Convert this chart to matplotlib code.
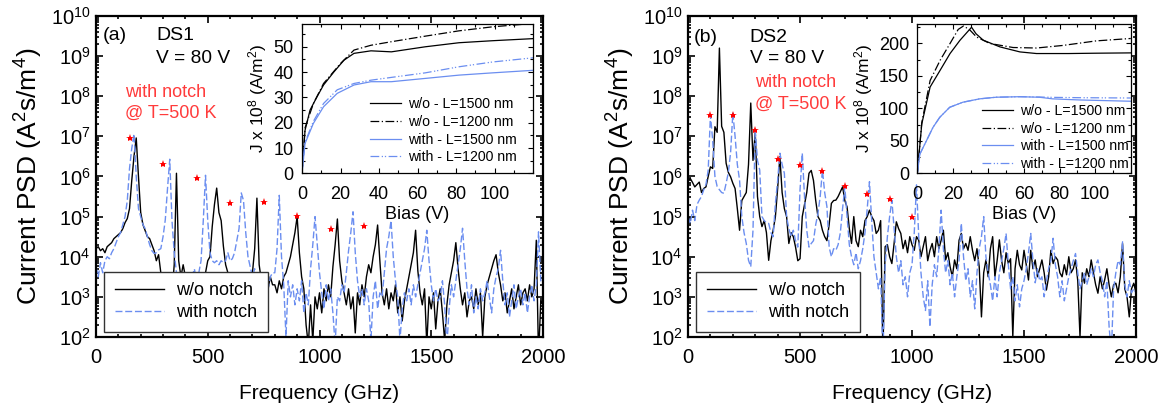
import numpy as np
import matplotlib
matplotlib.use('Agg')
import matplotlib.pyplot as plt
from matplotlib.ticker import LogLocator, MultipleLocator, NullFormatter

plt.rcParams['font.family'] = ['Liberation Sans', 'DejaVu Sans']
plt.rcParams['mathtext.fontset'] = 'custom'
plt.rcParams['mathtext.rm'] = 'Liberation Sans'
plt.rcParams['mathtext.it'] = 'Liberation Sans:italic'
plt.rcParams['mathtext.default'] = 'regular'

BLUE = '#6b8ef0'
RED = '#ff3b3b'

# frequency grid (GHz) shared by the four spectra
freq = np.arange(0, 2001, 10)

# log10 of current PSD (A^2 s/m^4), one row = 100 GHz
a_wo_log = [
    4.2, 4.25, 4.15, 4.2, 4.1, 4.25, 4.3, 4.35, 4.45, 4.5,
    4.55, 4.6, 4.7, 4.85, 4.95, 5.2, 5.9, 6.5, 6.96, 6.0,
    5.1, 4.8, 4.65, 4.5, 4.45, 4.3, 4.15, 3.9, 4.05, 3.6,
    3.4, 3.2, 3.5, 3.3, 3.1, 3.8, 6.08, 3.9, 3.5, 3.8,
    3.5, 3.2, 3.4, 3.0, 3.3, 3.1, 3.4, 3.2, 3.5, 3.6,
    3.9, 4.0, 4.75, 5.3, 5.71, 5.1, 4.9, 4.26, 3.8, 3.6,
    3.5, 3.3, 3.6, 3.2, 3.4, 3.3, 3.1, 3.4, 3.5, 3.3,
    3.6, 4.2, 5.46, 3.8, 3.4, 3.1, 3.3, 3.2, 3.5, 3.3,
    3.3, 3.1, 3.4, 3.2, 3.5, 3.6, 3.8, 4.0, 4.3, 4.6,
    5.0, 4.1, 3.5, 3.2, 2.3, 1.8, 2.8, 1.9, 3.0, 2.7,
    3.1, 2.6, 3.2, 2.9, 3.3, 3.0, 3.75, 4.3, 4.94, 3.9,
    3.4, 3.1, 2.8, 3.2, 2.7, 3.0, 2.1, 3.1, 2.8, 3.3,
    3.0, 3.5, 3.8, 3.6, 4.0, 4.3, 4.79, 3.9, 3.1, 2.8,
    3.2, 2.7, 3.1, 2.9, 3.3, 2.6, 3.0, 2.4, 2.9, 3.2,
    3.5, 3.8, 4.1, 4.66, 3.65, 3.1, 2.8, 3.2, 1.8, 3.0,
    2.7, 3.1, 2.2, 2.9, 3.2, 2.6, 1.9, 2.8, 3.3, 3.6,
    3.9, 4.35, 3.7, 3.2, 2.8, 3.1, 2.5, 2.9, 3.0, 2.7,
    3.2, 2.8, 3.1, 2.0, 3.0, 3.3, 3.5, 3.7, 3.9, 4.05,
    3.6, 3.3, 2.9, 3.1, 2.6, 2.9, 3.2, 2.7, 3.0, 3.3,
    2.8, 3.1, 3.2, 2.9, 3.3, 3.0, 3.2, 4.41, 1.5, 2.9,
    2.8,
]
a_with_log = [
    3.75, 3.5, 3.85, 3.6, 3.9, 4.0, 3.95, 4.1, 4.2, 4.35,
    4.5, 4.6, 4.8, 5.0, 5.4, 6.2, 6.7, 7.06, 6.0, 5.2,
    5.0, 4.8, 4.7, 4.5, 4.3, 4.15, 4.08, 4.1, 4.17, 4.2,
    4.5, 4.92, 5.7, 6.43, 4.9, 4.1, 3.6, 3.1, 3.3, 3.6,
    3.4, 3.6, 3.2, 3.5, 3.7, 3.4, 3.6, 3.9, 4.9, 6.03,
    4.9, 4.1, 3.9, 3.85, 3.9, 3.8, 3.9, 3.85, 3.9, 4.1,
    3.9, 3.95, 4.1, 4.4, 4.7, 5.59, 5.4, 4.6, 4.0, 3.75,
    3.5, 3.7, 3.4, 3.6, 3.3, 3.5, 3.4, 3.2, 3.5, 3.6,
    3.6, 4.2, 5.53, 4.0, 3.3, 2.0, 3.4, 3.0, 3.3, 2.8,
    3.2, 2.9, 3.4, 2.6, 3.1, 2.8, 3.7, 4.3, 5.0, 4.3,
    3.6, 3.1, 2.7, 3.3, 2.9, 3.2, 2.6, 1.8, 3.0, 2.9,
    3.3, 3.1, 3.6, 4.15, 4.6, 5.12, 4.1, 3.4, 3.0, 3.2,
    2.8, 3.2, 2.9, 1.9, 3.0, 3.4, 2.7, 3.1, 3.0, 3.6,
    4.2, 4.5, 4.9, 4.0, 3.4, 3.0, 1.9, 2.7, 3.1, 2.9,
    3.2, 2.8, 3.3, 3.0, 3.3, 3.6, 3.9, 4.2, 4.66, 3.9,
    3.3, 2.9, 3.2, 2.9, 3.0, 3.4, 2.8, 1.8, 2.7, 3.3,
    3.0, 3.4, 3.8, 4.2, 4.71, 3.9, 3.2, 2.8, 3.3, 2.6,
    3.0, 2.7, 3.2, 2.9, 3.1, 3.4, 3.0, 2.6, 3.2, 3.5,
    3.7, 4.16, 3.4, 2.8, 3.1, 2.5, 2.9, 3.3, 2.7, 3.0,
    3.2, 2.8, 3.1, 2.6, 3.0, 3.3, 2.9, 3.3, 4.62, 3.4,
    3.3,
]
b_wo_log = [
    5.9, 5.95, 5.85, 5.74, 5.8, 5.86, 5.6, 5.7, 5.74, 6.0,
    6.24, 6.2, 7.24, 7.1, 9.2, 7.25, 7.1, 6.33, 6.1, 5.99,
    5.83, 5.7, 5.2, 4.66, 5.4, 5.5, 5.6, 6.3, 7.83, 6.4,
    7.1, 5.5, 5.0, 4.75, 4.9, 4.6, 3.91, 4.4, 4.66, 5.0,
    5.7, 6.49, 5.6, 5.2, 5.0, 4.33, 4.6, 4.5, 4.24, 3.9,
    3.95, 5.0, 5.3, 5.6, 6.08, 6.15, 5.9, 5.4, 5.0, 4.9,
    4.66, 4.5, 4.4, 4.8, 5.33, 5.4, 5.41, 5.5, 5.62, 5.74,
    5.4, 5.24, 4.7, 4.33, 5.0, 4.4, 4.25, 4.66, 4.5, 4.9,
    5.0, 5.16, 5.0, 4.9, 4.58, 4.66, 4.9, 1.6, 4.25, 4.3,
    4.0, 3.83, 4.33, 4.87, 4.7, 4.58, 4.2, 4.41, 4.1, 4.5,
    4.3, 4.16, 4.5, 4.41, 4.0, 4.25, 4.5, 3.9, 4.16, 4.33,
    4.0, 4.5, 4.2, 4.41, 4.66, 3.92, 4.1, 3.75, 3.5, 3.92,
    3.7, 4.41, 4.58, 4.2, 4.33, 4.16, 4.5, 4.16, 3.9, 4.2,
    3.75, 2.5, 3.6, 3.92, 3.5, 4.2, 4.5, 3.5, 3.9, 4.42,
    3.9, 3.6, 4.1, 3.83, 3.95, 2.0, 3.7, 4.16, 3.8, 3.67,
    4.16, 3.8, 3.42, 4.16, 3.7, 3.92, 3.5, 3.7, 3.92, 3.6,
    3.17, 3.5, 4.16, 3.83, 4.0, 3.92, 3.6, 3.5, 3.8, 3.55,
    4.0, 3.6, 3.7, 3.92, 3.4, 2.0, 3.6, 3.34, 3.7, 3.5,
    3.92, 3.6, 3.3, 3.09, 3.5, 3.2, 3.42, 3.7, 3.3, 3.0,
    3.3, 3.34, 3.1, 3.5, 4.33, 3.2, 3.0, 2.5, 3.2, 3.34,
    3.1,
]
b_with_log = [
    5.0, 4.83, 5.16, 4.9, 5.3, 5.41, 5.5, 5.67, 5.8, 6.16,
    7.53, 6.9, 6.0, 5.75, 5.67, 5.6, 5.58, 5.83, 6.1, 6.6,
    7.58, 7.0, 6.3, 5.91, 5.0, 4.6, 4.33, 3.91, 3.75, 4.66,
    7.16, 6.4, 6.16, 5.0, 4.9, 4.85, 4.83, 4.6, 4.5, 5.33,
    5.9, 6.58, 6.3, 6.08, 5.0, 4.7, 4.5, 4.66, 4.4, 4.24,
    5.67, 6.58, 5.5, 4.66, 4.24, 4.33, 4.4, 4.8, 5.08, 5.5,
    6.16, 5.6, 5.25, 4.24, 4.0, 4.2, 4.16, 4.3, 4.6, 5.2,
    5.74, 5.0, 4.3, 4.0, 3.8, 4.1, 3.7, 3.9, 4.2, 4.6,
    5.2, 5.87, 4.9, 4.0, 3.6, 3.2, 3.5, 1.5, 3.8, 4.5,
    5.0, 5.41, 4.7, 4.0, 3.6, 3.9, 3.3, 3.5, 3.0, 3.6,
    3.8, 4.6, 5.79, 4.5, 3.6, 3.0, 2.66, 3.4, 2.25, 3.3,
    3.8, 3.5, 4.2, 5.16, 4.2, 3.6, 3.9, 3.3, 3.6, 3.0,
    3.5, 3.9, 4.83, 4.0, 3.4, 3.7, 3.0, 3.4, 2.7, 3.6,
    4.2, 4.5, 5.0, 4.0, 3.6, 3.3, 2.9, 3.5, 3.0, 3.6,
    3.9, 4.2, 4.58, 3.8, 3.2, 3.5, 2.9, 3.3, 2.75, 3.2,
    3.4, 3.7, 4.1, 4.58, 3.9, 3.35, 3.7, 3.4, 3.5, 3.0,
    3.4, 3.7, 3.9, 4.46, 3.8, 3.5, 3.0, 3.4, 2.9, 3.2,
    3.5, 3.7, 3.9, 4.08, 3.6, 3.2, 3.4, 3.6, 3.3, 3.5,
    3.7, 3.5, 3.8, 3.92, 3.6, 3.4, 3.0, 3.4, 2.25, 1.6,
    3.2, 3.6, 3.9, 3.8, 4.37, 3.3, 3.0, 3.4, 3.1, 3.2,
    3.1,
]

# red star markers (harmonics)
a_star_f = [150, 300, 450, 600, 750, 900, 1050, 1200]
a_star_log = [6.96, 6.3, 5.96, 5.34, 5.36, 5.01, 4.69, 4.77]
b_star_f = [100, 200, 300, 400, 500, 600, 700, 800, 900, 1000]
b_star_log = [7.53, 7.53, 7.16, 6.43, 6.28, 6.14, 5.76, 5.56, 5.44, 4.98]

# inset (a): J x 1e8 (A/m^2) vs bias (V)
ia_wo1500_v = [0, 1.6, 4.2, 7.7, 11.2, 16.5, 21.8, 27, 35.8, 46.4, 64, 81.5, 99, 122]
ia_wo1500_j = [0, 17, 25, 30.1, 34.9, 40, 44.7, 47.4, 48.4, 48, 50, 51.6, 52.4, 53.3]
ia_wo1200_v = [0, 1.6, 5.9, 11.2, 20, 27, 35.8, 46.4, 64, 81.5, 99, 116.6, 122]
ia_wo1200_j = [0, 18, 27.5, 35.5, 43.4, 48.7, 50.6, 52, 54.2, 56.3, 57.9, 59, 59.5]
ia_w1500_v = [0, 1.6, 5.9, 11.2, 18.3, 27, 35.8, 46.4, 64, 81.5, 99, 122]
ia_w1500_j = [0, 11.8, 19.7, 26.3, 31.6, 34.9, 36.2, 36.2, 37.5, 38.8, 39.7, 40.8]
ia_w1200_v = [0, 1.6, 5.9, 11.2, 18.3, 27, 35.8, 46.4, 64, 81.5, 99, 122]
ia_w1200_j = [0, 12.3, 20.5, 27.6, 33, 35.5, 36.8, 37.9, 39.7, 42.1, 44, 45.8]

# inset (b)
ib_wo1500_v = [0, 2.5, 7.2, 12.8, 18.4, 24, 30.5, 33, 37.1, 46.5, 57.7, 67, 85, 100, 120]
ib_wo1500_j = [0, 76, 133, 158.6, 184.5, 205, 225, 215, 205, 194.7, 187, 184.5, 184.5, 185, 185.5]
ib_wo1200_v = [0, 2.5, 7.2, 12.8, 18.4, 23, 26, 29.6, 33.3, 40.8, 53.8, 67, 81.9, 100.6, 120]
ib_wo1200_j = [0, 78, 143, 174, 200, 221.7, 227, 220.6, 210, 200, 193.8, 193, 197, 204, 207.7]
ib_w1500_v = [0, 1.4, 5.1, 8.8, 12.6, 18.2, 25.6, 35, 44.3, 57.4, 68.6, 76, 91, 120]
ib_w1500_j = [0, 29.5, 50, 70.7, 86.2, 101.7, 109.5, 114.7, 117.2, 118, 117.2, 114.7, 113, 111]
ib_w1200_v = ib_w1500_v
ib_w1200_j = [0, 29.5, 50, 70.7, 86.2, 101.7, 109.5, 114.7, 117.2, 118, 117.5, 117, 116.5, 116]

inset_labels = ['w/o - L=1500 nm', 'w/o - L=1200 nm', 'with - L=1500 nm', 'with - L=1200 nm']

fig = plt.figure(figsize=(11.65, 4.16), dpi=100)


def draw_main(rect, wo_log, with_log, star_f, star_log, texts):
    ax = fig.add_axes(rect)
    ax.plot(freq, 10 ** np.array(wo_log), color='k', lw=1.0, label='w/o notch')
    ax.plot(freq, 10 ** np.array(with_log), color=BLUE, lw=1.0, dashes=(5, 2), label='with notch')
    ax.plot(star_f, 10 ** np.array(star_log), ls='none', marker='*', color='red', ms=6, mew=0)
    ax.set_yscale('log')
    ax.set_xlim(0, 2000)
    ax.set_ylim(1e2, 1e10)
    ax.xaxis.set_major_locator(MultipleLocator(500))
    ax.xaxis.set_minor_locator(MultipleLocator(100))
    ax.yaxis.set_major_locator(LogLocator(base=10, numticks=20))
    ax.yaxis.set_minor_locator(LogLocator(base=10, subs=np.arange(2, 10), numticks=20))
    ax.yaxis.set_minor_formatter(NullFormatter())
    ax.tick_params(which='both', direction='in', top=True, right=True, width=1.2)
    ax.tick_params(which='major', length=5, labelsize=14.5)
    ax.tick_params(which='minor', length=2.5)
    ax.tick_params(axis='x', pad=8)
    ax.tick_params(axis='y', pad=4)
    for s in ax.spines.values():
        s.set_linewidth(1.6)
    ax.set_xlabel('Frequency (GHz)', fontsize=15, labelpad=12)
    ax.set_ylabel('Current PSD (A$^2$s/m$^4$)', fontsize=19, labelpad=4)
    for x, y, s, c, fs in texts:
        ax.text(x, y, s, color=c, fontsize=fs, transform=ax.transAxes, va='baseline', ha='left')
    leg = ax.legend(loc='lower left', bbox_to_anchor=(0.018, 0.016), borderaxespad=0,
                    fontsize=13, handlelength=2.7, handletextpad=0.7, labelspacing=0.25,
                    borderpad=0.6, fancybox=False, framealpha=1, edgecolor='#333333')
    leg.get_frame().set_linewidth(1.0)
    return ax


def draw_inset(rect, curves, ylim, ystep, leg_anchor):
    ax = fig.add_axes(rect)
    styles = [dict(color='k', ls='-'),
              dict(color='k', dashes=(7, 2, 1, 2)),
              dict(color=BLUE, ls='-'),
              dict(color=BLUE, dashes=(7, 2, 1, 1.5, 1, 2))]
    for (v, j), st, lab in zip(curves, styles, inset_labels):
        ax.plot(v, j, lw=0.9, label=lab, **st)
    ax.set_xlim(0, 120)
    ax.set_ylim(*ylim)
    ax.set_xticks([0, 20, 40, 60, 80, 100])
    ax.xaxis.set_minor_locator(MultipleLocator(10))
    ax.yaxis.set_major_locator(MultipleLocator(ystep))
    ax.yaxis.set_minor_locator(MultipleLocator(ystep / 2))
    ax.tick_params(which='both', direction='in', top=True, right=True, width=0.8)
    ax.tick_params(which='major', length=3.5, labelsize=13)
    ax.tick_params(which='minor', length=2)
    ax.tick_params(axis='x', pad=9)
    ax.tick_params(axis='y', pad=6)
    for s in ax.spines.values():
        s.set_linewidth(0.9)
    ax.set_xlabel('Bias (V)', fontsize=13, labelpad=2)
    ax.set_ylabel('J x 10$^8$ (A/m$^2$)', fontsize=12.5, labelpad=3)
    ax.legend(loc='lower right', bbox_to_anchor=leg_anchor, borderaxespad=0, borderpad=0,
              frameon=False, fontsize=10.2, handlelength=2.2, handletextpad=0.5, labelspacing=0.25)
    return ax


ax_a = draw_main([0.0824, 0.19, 0.3837, 0.7716], a_wo_log, a_with_log, a_star_f, a_star_log,
                 [(0.016, 0.925, '(a)', 'k', 14), (0.134, 0.925, 'DS1', 'k', 14),
                  (0.134, 0.854, 'V = 80 V', 'k', 13.8), (0.065, 0.748, 'with notch', RED, 13),
                  (0.065, 0.682, '@ T=500 K', RED, 13)])
ax_b = draw_main([0.5906, 0.19, 0.3845, 0.7716], b_wo_log, b_with_log, b_star_f, b_star_log,
                 [(0.012, 0.92, '(b)', 'k', 14), (0.138, 0.92, 'DS2', 'k', 14),
                  (0.138, 0.853, 'V = 80 V', 'k', 13.8), (0.15, 0.778, 'with notch', RED, 13),
                  (0.15, 0.712, '@ T=500 K', RED, 13)])

draw_inset([0.2592, 0.5834, 0.1985, 0.3589],
           [(ia_wo1500_v, ia_wo1500_j), (ia_wo1200_v, ia_wo1200_j),
            (ia_w1500_v, ia_w1500_j), (ia_w1200_v, ia_w1200_j)],
           (0, 59), 10, (0.93, 0.062))
draw_inset([0.7874, 0.5834, 0.1832, 0.3589],
           [(ib_wo1500_v, ib_wo1500_j), (ib_wo1200_v, ib_wo1200_j),
            (ib_w1500_v, ib_w1500_j), (ib_w1200_v, ib_w1200_j)],
           (0, 230), 50, (0.99, 0.016))

fig.savefig('out.png', dpi=100)
